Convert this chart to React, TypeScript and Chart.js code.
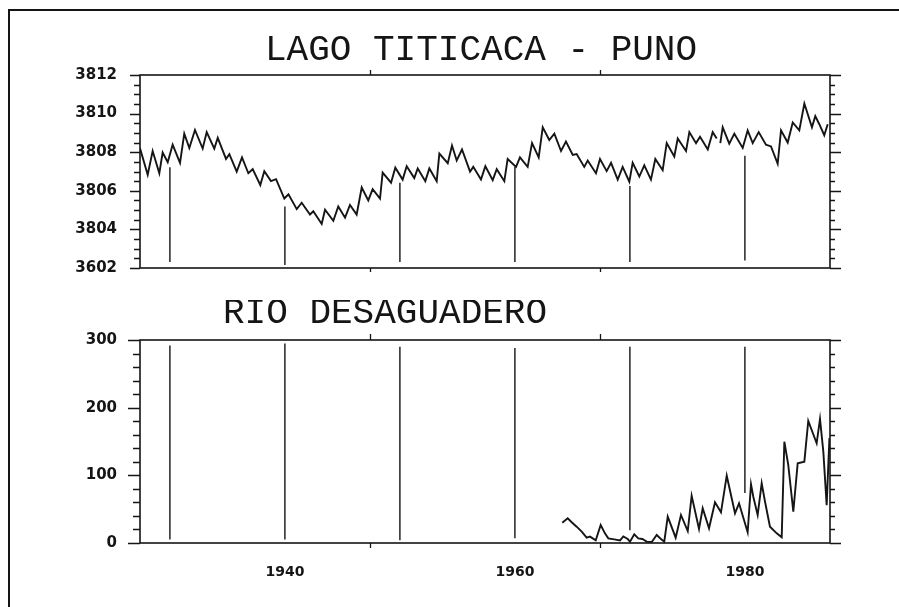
import React, { useEffect, useRef } from 'react';
import { Chart, registerables } from 'chart.js';

Chart.register(...registerables);

const INK = '#151515';

// ---------- X axis (years) ----------
const X_MIN = 1927.4;
const X_MAX = 1987.4;
const xLabelYears = [1940, 1960, 1980];
const axisDivisionYears = [1947.4, 1967.4];
const decadeYears = [1930, 1940, 1950, 1960, 1970, 1980];

// ---------- LAGO TITICACA - PUNO (m a.s.l.) ----------
const lakeYears = [
  1927.4, 1928.07, 1928.5, 1929.08, 1929.37, 1929.81, 1930.24, 1930.88, 1931.25, 1931.69,
  1932.18, 1932.85, 1933.2, 1933.86, 1934.16, 1934.88, 1935.17, 1935.81, 1936.27, 1936.82,
  1937.2, 1937.86, 1938.21, 1938.79, 1939.23, 1939.95, 1940.31, 1941.03, 1941.46, 1942.18,
  1942.47, 1943.2, 1943.49, 1944.21, 1944.64, 1945.23, 1945.66, 1946.24, 1946.68, 1947.25,
  1947.63, 1948.27, 1948.5, 1949.23, 1949.6, 1950.24, 1950.59, 1951.25, 1951.55, 1952.21,
  1952.56, 1953.2, 1953.43, 1954.16, 1954.53, 1954.94, 1955.4, 1956.1, 1956.38, 1957.05,
  1957.43, 1958.07, 1958.42, 1959.08, 1959.37, 1960.1, 1960.44, 1961.11, 1961.49, 1962.07,
  1962.42, 1962.99, 1963.43, 1964.01, 1964.44, 1965.03, 1965.37, 1966.03, 1966.33, 1967.05,
  1967.4, 1967.98, 1968.36, 1968.94, 1969.37, 1969.95, 1970.24, 1970.82, 1971.25, 1971.83,
  1972.21, 1972.85, 1973.2, 1973.86, 1974.16, 1974.88, 1975.17, 1975.75, 1976.1, 1976.77,
  1977.2, 1977.55, 1977.7, 1977.86, 1978.07, 1978.64, 1979.08, 1979.81, 1980.24, 1980.68,
  1981.2, 1981.83, 1982.27, 1982.85, 1983.14, 1983.72, 1984.16, 1984.73, 1985.17, 1985.83,
  1986.12, 1986.47, 1986.9, 1987.2,
];
const lakeLevels = [
  3808.2, 3806.83, 3808.06, 3806.91, 3807.98, 3807.48, 3808.39, 3807.45, 3808.96, 3808.22,
  3809.15, 3808.19, 3809.04, 3808.19, 3808.74, 3807.65, 3807.9, 3806.99, 3807.73, 3806.91,
  3807.12, 3806.3, 3807.02, 3806.5, 3806.6, 3805.6, 3805.82, 3805.05, 3805.38, 3804.77,
  3804.94, 3804.28, 3805.02, 3804.45, 3805.19, 3804.61, 3805.27, 3804.77, 3806.17, 3805.5,
  3806.09, 3805.6, 3806.94, 3806.42, 3807.2, 3806.58, 3807.27, 3806.66, 3807.16, 3806.5,
  3807.16, 3806.5, 3807.93, 3807.43, 3808.35, 3807.57, 3808.14, 3806.99, 3807.24, 3806.58,
  3807.27, 3806.55, 3807.12, 3806.5, 3807.65, 3807.24, 3807.73, 3807.24, 3808.47, 3807.73,
  3809.29, 3808.63, 3808.96, 3808.06, 3808.55, 3807.86, 3807.9, 3807.24, 3807.57, 3806.91,
  3807.65, 3807.02, 3807.45, 3806.58, 3807.24, 3806.47, 3807.45, 3806.74, 3807.32, 3806.58,
  3807.65, 3807.07, 3808.47, 3807.78, 3808.71, 3808.06, 3809.04, 3808.47, 3808.8, 3808.14,
  3809.04, 3808.71, null, 3808.47, 3809.29, 3808.44, 3808.96, 3808.22, 3809.13, 3808.47,
  3809.04, 3808.39, 3808.3, 3807.4, 3809.13, 3808.5, 3809.54, 3809.13, 3810.52, 3809.29,
  3809.87, 3809.45, 3808.88, 3809.45,
];
const lakeMarkerTop = [3807.22, 3805.19, 3806.42, 3807.24, 3806.25, 3807.81];
const lakeMarkerBottom = [3802.31, 3802.15, 3802.31, 3802.31, 3802.31, 3802.39];
const lakeTickValues = [3802, 3804, 3806, 3808, 3810, 3812];
const lakeTickLabels = ['3602', '3804', '3806', '3808', '3810', '3812'];

// ---------- RIO DESAGUADERO ----------
const riverYears = [
  1964.12, 1964.59, 1964.94, 1965.37, 1965.81, 1966.24, 1966.53, 1967.03, 1967.46, 1967.83,
  1968.12, 1968.64, 1969.14, 1969.43, 1969.81, 1970.01, 1970.38, 1970.73, 1971.08, 1971.46,
  1971.9, 1972.33, 1972.7, 1972.99, 1973.29, 1973.98, 1974.44, 1975.03, 1975.37, 1976.01,
  1976.33, 1976.88, 1977.4, 1977.92, 1978.42, 1979.14, 1979.49, 1980.24, 1980.53, 1980.73,
  1981.11, 1981.46, 1981.75, 1982.18, 1982.77, 1983.2, 1983.43, 1983.77, 1984.21, 1984.59,
  1985.17, 1985.51, 1986.24, 1986.53, 1986.82, 1987.11, 1987.35,
];
const riverFlows = [
  30, 36.5, 30.6, 24.1, 16.7, 7.9, 9.4, 3.9, 26.6, 14.3,
  6.9, 5.4, 3.9, 9.8, 5.9, 2, 12.8, 6.9, 5.9, 2,
  1.5, 11.8, 5.9, 2, 38.9, 7.9, 41.4, 17.7, 69.9, 20.7,
  51.3, 21.7, 60.2, 45.4, 99.5, 43.9, 58.7, 15.8, 86.8, 68.4,
  41.4, 88.2, 61, 24.1, 14.3, 8.4, 149.7, 115.3, 46.3, 117.8,
  120.2, 180.3, 147.4, 183.3, 135, 56, 155,
];
const riverMarkerTop = [292, 295, 290, 288, 290, 290];
const riverMarkerBottom = [5, 5, 4, 7, 19, 74];
const riverTickValues = [0, 100, 200, 300];
const riverTickLabels = ['0', '100', '200', '300'];

// ---------- helpers ----------
type FrameCfg = {
  title: string;
  titleX: number;
  titleY: number;
  minorStep: number;
  majorStep: number;
  leftMajor: number;
  leftMinor: number;
  rightMajor: number;
  rightMinor: number;
  topTick: number;
  bottomTick: number;
};

function makeFramePlugin(cfg: FrameCfg) {
  return {
    id: 'frame',
    afterDatasetsDraw(chart: any) {
      const { ctx, chartArea: a, scales } = chart;
      const ys = scales.y;
      const xs = scales.x;
      ctx.save();
      ctx.strokeStyle = INK;
      ctx.lineWidth = 1.6;
      ctx.strokeRect(a.left, a.top, a.right - a.left, a.bottom - a.top);
      ctx.lineWidth = 1.3;
      ctx.beginPath();
      const n = Math.round((ys.max - ys.min) / cfg.minorStep);
      for (let i = 0; i <= n; i++) {
        const v = ys.min + i * cfg.minorStep;
        const py = Math.round(ys.getPixelForValue(v)) + 0.5;
        const r = (v - ys.min) / cfg.majorStep;
        const major = Math.abs(r - Math.round(r)) < 1e-6;
        ctx.moveTo(a.left - (major ? cfg.leftMajor : cfg.leftMinor), py);
        ctx.lineTo(a.left, py);
        ctx.moveTo(a.right, py);
        ctx.lineTo(a.right + (major ? cfg.rightMajor : cfg.rightMinor), py);
      }
      for (const yr of axisDivisionYears) {
        const px = Math.round(xs.getPixelForValue(yr)) + 0.5;
        ctx.moveTo(px, a.top);
        ctx.lineTo(px, a.top - cfg.topTick);
        ctx.moveTo(px, a.bottom);
        ctx.lineTo(px, a.bottom + cfg.bottomTick);
      }
      ctx.stroke();
      ctx.fillStyle = INK;
      ctx.font = '36px "Liberation Mono", "DejaVu Sans Mono", monospace';
      ctx.textAlign = 'left';
      ctx.textBaseline = 'alphabetic';
      ctx.fillText(cfg.title, cfg.titleX, cfg.titleY);
      ctx.restore();
    },
  };
}

function markerDatasets(tops: number[], bottoms: number[]) {
  return decadeYears.map((yr, i) => ({
    data: [
      { x: yr, y: tops[i] },
      { x: yr, y: bottoms[i] },
    ],
    borderColor: INK,
    borderWidth: 1.4,
    pointRadius: 0,
  }));
}

const yLabelFont = { family: '"DejaVu Sans", sans-serif', size: 15, weight: 'bold' as const };
const xLabelFont = { family: '"DejaVu Sans", sans-serif', size: 14, weight: 'bold' as const };

function topConfig(): any {
  return {
    type: 'line',
    data: {
      datasets: [
        {
          data: lakeYears.map((x, i) => ({ x, y: lakeLevels[i] })),
          borderColor: INK,
          borderWidth: 1.9,
          pointRadius: 0,
          spanGaps: false,
        },
        ...markerDatasets(lakeMarkerTop, lakeMarkerBottom),
      ],
    },
    options: {
      responsive: false,
      animation: false,
      devicePixelRatio: 1,
      events: [],
      layout: { padding: { left: 0, right: 69, top: 75, bottom: 22 } },
      plugins: { legend: { display: false }, tooltip: { enabled: false }, title: { display: false } },
      scales: {
        x: { type: 'linear', min: X_MIN, max: X_MAX, display: false },
        y: {
          type: 'linear',
          min: 3802,
          max: 3812,
          grid: { display: false, drawTicks: false },
          border: { display: false },
          afterBuildTicks: (s: any) => {
            s.ticks = lakeTickValues.map((value) => ({ value }));
          },
          afterFit: (s: any) => {
            s.width = 140;
          },
          ticks: {
            autoSkip: false,
            padding: 23,
            color: INK,
            font: yLabelFont,
            callback: (v: number) => lakeTickLabels[lakeTickValues.indexOf(v)],
          },
        },
      },
    },
    plugins: [
      makeFramePlugin({
        title: 'LAGO TITICACA - PUNO',
        titleX: 265,
        titleY: 60,
        minorStep: 0.5,
        majorStep: 2,
        leftMajor: 10,
        leftMinor: 6,
        rightMajor: 11,
        rightMinor: 5,
        topTick: 5,
        bottomTick: 4,
      }),
    ],
  };
}

function bottomConfig(): any {
  return {
    type: 'line',
    data: {
      datasets: [
        {
          data: riverYears.map((x, i) => ({ x, y: riverFlows[i] })),
          borderColor: INK,
          borderWidth: 1.9,
          pointRadius: 0,
        },
        ...markerDatasets(riverMarkerTop, riverMarkerBottom),
      ],
    },
    options: {
      responsive: false,
      animation: false,
      devicePixelRatio: 1,
      events: [],
      layout: { padding: { left: 0, right: 69, top: 40, bottom: 0 } },
      plugins: { legend: { display: false }, tooltip: { enabled: false }, title: { display: false } },
      scales: {
        x: {
          type: 'linear',
          min: X_MIN,
          max: X_MAX,
          grid: { display: false, drawTicks: false },
          border: { display: false },
          afterBuildTicks: (s: any) => {
            s.ticks = xLabelYears.map((value) => ({ value }));
          },
          afterFit: (s: any) => {
            s.height = 64;
          },
          ticks: {
            autoSkip: false,
            maxRotation: 0,
            padding: 21,
            color: INK,
            font: xLabelFont,
            callback: (v: number) => String(v),
          },
        },
        y: {
          type: 'linear',
          min: 0,
          max: 300,
          grid: { display: false, drawTicks: false },
          border: { display: false },
          afterBuildTicks: (s: any) => {
            s.ticks = riverTickValues.map((value) => ({ value }));
          },
          afterFit: (s: any) => {
            s.width = 140;
          },
          ticks: {
            autoSkip: false,
            padding: 23,
            color: INK,
            font: yLabelFont,
            callback: (v: number) => riverTickLabels[riverTickValues.indexOf(v)],
          },
        },
      },
    },
    plugins: [
      makeFramePlugin({
        title: 'RIO DESAGUADERO',
        titleX: 223,
        titleY: 23,
        minorStep: 20,
        majorStep: 100,
        leftMajor: 12,
        leftMinor: 7,
        rightMajor: 11,
        rightMinor: 5,
        topTick: 6,
        bottomTick: 5,
      }),
    ],
  };
}

export default function App() {
  const topRef = useRef<HTMLCanvasElement>(null);
  const botRef = useRef<HTMLCanvasElement>(null);

  useEffect(() => {
    const c1 = new Chart(topRef.current as HTMLCanvasElement, topConfig());
    const c2 = new Chart(botRef.current as HTMLCanvasElement, bottomConfig());
    return () => {
      c1.destroy();
      c2.destroy();
    };
  }, []);

  return (
    <div
      style={{
        position: 'absolute',
        left: 0,
        top: 0,
        width: 899,
        height: 607,
        background: '#fff',
        overflow: 'hidden',
      }}
    >
      <div
        style={{
          position: 'absolute',
          left: 8,
          top: 9,
          right: -4,
          bottom: -4,
          borderLeft: `2px solid ${INK}`,
          borderTop: `2px solid ${INK}`,
        }}
      />
      <canvas ref={topRef} width={899} height={300} style={{ position: 'absolute', left: 0, top: 0 }} />
      <canvas ref={botRef} width={899} height={307} style={{ position: 'absolute', left: 0, top: 300 }} />
    </div>
  );
}
